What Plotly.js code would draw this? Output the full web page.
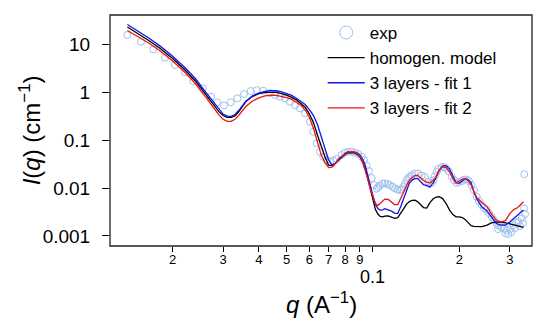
<!DOCTYPE html>
<html>
<head>
<meta charset="utf-8">
<script src="https://cdn.plot.ly/plotly-3.0.1.min.js"></script>
<style>html,body{margin:0;padding:0;background:#fff;}#chart{width:550px;height:335px;}</style>
</head>
<body>
<div id="chart"></div>
<script>
// ---- data ----
var qModel = [0.0139,0.015,0.0165,0.018,0.020,0.022,0.024,0.026,0.028,0.029,0.030,0.031,0.032,0.033,0.034,
  0.036,0.038,0.040,0.042,0.044,0.046,0.048,0.050,0.052,0.054,0.056,0.058,0.060,0.062,0.064,0.066,0.068,
  0.070,0.072,0.074,0.076,0.078,0.080,0.082,0.084,0.086,0.088,0.090,0.092,0.094,0.096,0.098,0.100,0.102,
  0.104,0.106,0.108,0.110,0.113,0.116,0.119,0.122,0.125,0.128,0.131,0.134,0.137,0.140,0.143,0.146,0.150,
  0.154,0.158,0.162,0.166,0.170,0.175,0.180,0.185,0.190,0.195,0.200,0.205,0.210,0.215,0.220,0.225,0.230,
  0.240,0.250,0.260,0.270,0.280,0.290,0.300,0.310,0.320,0.330,0.335];

var iHomogen = [22.97,17.39,12.06,8.373,5.054,2.978,1.722,0.9215,0.5175,0.3934,0.3263,0.2992,0.3006,0.3217,0.3916,
  0.6394,0.8210,0.9304,0.9952,1.0097,0.9952,0.9395,0.8739,0.7826,0.6941,0.5807,0.4861,0.3506,0.2319,0.1278,0.07315,0.04438,
  0.03021,0.02935,0.03324,0.03898,0.04568,0.05076,0.05455,0.05508,0.05455,0.05052,0.04524,0.03573,0.02492,0.01541,0.00953,0.005354,0.003557,
  0.002866,0.002566,0.002517,0.002603,0.002628,0.002433,0.002330,0.002421,0.002935,0.003733,0.004633,0.005226,0.005562,0.005616,0.005226,0.004633,0.003916,
  0.003824,0.004981,0.005893,0.006489,0.006583,0.006036,0.004747,0.003472,0.002797,0.002517,0.002517,0.002421,0.002190,0.001859,0.001641,0.001586,0.001571,
  0.001571,0.001689,0.001905,0.001941,0.001951,0.001886,0.001815,0.001713,0.001625,0.001541,0.001511];

var iFit1 = [25.91,19.60,13.54,9.395,5.644,3.326,1.932,1.034,0.5754,0.4353,0.3506,0.3185,0.3140,0.3423,0.4148,
  0.6394,0.8409,0.9622,1.0442,1.0748,1.0748,1.0193,0.9484,0.8614,0.7492,0.6551,0.5536,0.4353,0.3263,0.2117,0.1161,0.06520,
  0.03842,0.03021,0.03324,0.04127,0.04656,0.05250,0.05724,0.05780,0.05643,0.05455,0.04886,0.04031,0.02949,0.01913,0.01101,0.006808,0.004523,
  0.003733,0.003472,0.003522,0.003715,0.003505,0.003309,0.003007,0.002935,0.004108,0.006036,0.009085,0.01272,0.01469,0.01579,0.01594,0.01400,0.01183,
  0.01128,0.01049,0.01272,0.01656,0.02318,0.02906,0.02949,0.02492,0.01780,0.01302,0.01253,0.01400,0.01579,0.01483,0.01302,0.008252,0.006036,
  0.004011,0.003309,0.002421,0.001815,0.001689,0.001689,0.001951,0.002364,0.002731,0.003231,0.003472];

var iFit2 = [19.42,15.05,10.65,7.421,4.480,2.641,1.519,0.8132,0.4459,0.3374,0.2731,0.2469,0.2469,0.2718,0.3294,
  0.5029,0.6551,0.7638,0.8409,0.8739,0.8614,0.8210,0.7750,0.7109,0.6243,0.5405,0.4249,0.2963,0.1746,0.09127,0.04886,0.03406,
  0.02679,0.02744,0.03246,0.04031,0.04771,0.05378,0.05724,0.05780,0.05724,0.05250,0.04612,0.03489,0.02374,0.01505,0.009304,0.006489,0.004747,
  0.004311,0.004862,0.005483,0.005893,0.005808,0.005226,0.004523,0.004523,0.006036,0.008252,0.01155,0.01469,0.01656,0.01823,0.01867,0.01656,0.01434,
  0.01334,0.01272,0.01434,0.01738,0.02374,0.02783,0.02679,0.02158,0.01579,0.01272,0.01400,0.01541,0.01594,0.01400,0.01155,0.008252,0.006332,
  0.004981,0.004108,0.002797,0.002097,0.001979,0.002097,0.002935,0.003557,0.003916,0.004633,0.005176];

var qExp = [0.01389,0.01551,0.01712,0.01880,0.02038,0.02208,0.02360,0.02546,0.02721,0.02862,0.03020,0.03189,0.03362,0.03548,
  0.03744,0.03929,0.04143,0.04372,0.04551,0.04737,0.04932,0.05134,0.05345,0.05563,0.05791,0.06029,0.06192,0.06362,0.06533,
  0.06710,0.06896,0.07079,0.07270,0.07471,0.07777,0.07985,0.08199,0.08427,0.08654,0.08887,0.09133,0.09303,0.09506,0.09683,
  0.09896,0.1008,0.1030,0.1043,0.1058,0.1079,0.1101,0.1124,0.1146,0.1170,0.1193,0.1218,0.1242,0.1262,0.1275,0.1293,0.1311,
  0.1328,0.1346,0.1365,0.1401,0.1439,0.1479,0.1518,0.1559,0.1602,0.1623,0.1645,0.1668,0.1690,0.1736,0.1769,0.1807,0.1841,
  0.1882,0.1917,0.1959,0.1996,0.2040,0.2077,0.2123,0.2162,0.2210,0.2251,0.2300,0.2343,0.2394,0.2439,0.2493,0.2539,0.2595,
  0.2644,0.2702,0.2730,0.2752,0.2812,0.2865,0.2900,0.2927,0.2965,0.3006,0.3042,0.3086,0.3129,0.3167,0.3214,0.3258,0.3302,
  0.3337,0.3364,0.3372,0.3391];

var iExp = [15.64,11.33,7.863,5.252,3.697,2.602,1.713,1.206,0.8055,0.6153,0.5277,0.6153,0.7459,0.9171,
  1.059,1.111,1.075,0.9622,0.8739,0.8055,0.7459,0.6333,0.5405,0.4612,0.3628,0.2421,0.1498,0.08574,0.05724,
  0.04502,0.03842,0.03540,0.03751,0.04031,0.04886,0.05508,0.05724,0.05780,0.05455,0.05124,0.04502,0.03842,0.02949,0.02263,
  0.01617,0.01155,0.009763,0.01049,0.01128,0.01241,0.01253,0.01212,0.01155,0.01075,0.009856,0.009304,0.009085,0.009530,0.01049,0.01212,0.01469,
  0.01617,0.01738,0.01867,0.02008,0.02027,0.01823,0.01697,0.01366,0.01272,0.01469,0.01780,0.02158,0.02492,0.02744,0.02744,0.02553,0.02210,
  0.01738,0.01469,0.01272,0.01334,0.01400,0.01505,0.01505,0.01400,0.01155,0.009085,0.006583,0.005354,0.004416,0.003824,0.003472,0.003007,0.002517,
  0.002147,0.001832,0.001393,0.001649,0.001511,0.001427,0.001149,0.001327,0.001095,0.001393,0.001206,0.001689,0.001462,0.001859,0.001998,0.001609,0.002330,
  0.001859,0.003769,0.01960,0.002866];

var xTickVals = [0.02,0.03,0.04,0.05,0.06,0.07,0.08,0.09,0.1,0.2,0.3];
var xTickText = ['2','3','4','5','6','7','8','9','','2','3'];
var yTickVals = [0.001,0.01,0.1,1,10];
var yTickText = ['0.001','0.01','0.1','1','10'];

var FONT = 'Liberation Sans, Arial, Helvetica, sans-serif';
var expColor = 'rgb(158,192,240)';

var traces = [
  {x: qExp, y: iExp, type: 'scatter', mode: 'markers', name: 'exp', showlegend: false, legendgroup: 'exp',
   marker: {symbol: 'circle-open', size: 7, color: expColor, line: {width: 1, color: expColor}}},
  {x: qModel, y: iHomogen, type: 'scatter', mode: 'lines', name: 'homogen. model', legendrank: 2,
   line: {color: '#000000', width: 1.3}},
  {x: qModel, y: iFit1, type: 'scatter', mode: 'lines', name: '3 layers - fit 1', legendrank: 3,
   line: {color: 'rgb(20,20,225)', width: 1.3}},
  {x: qModel, y: iFit2, type: 'scatter', mode: 'lines', name: '3 layers - fit 2', legendrank: 4,
   line: {color: 'rgb(240,20,20)', width: 1.3}},
  {x: [null], y: [null], type: 'scatter', mode: 'markers', name: 'exp', legendgroup: 'exp', legendrank: 1,
   marker: {symbol: 'circle-open', size: 13, color: expColor, line: {width: 1, color: expColor}}}
];

var layout = {
  width: 550, height: 335,
  margin: {l: 110, r: 18, t: 15, b: 89},
  paper_bgcolor: '#ffffff', plot_bgcolor: '#ffffff',
  font: {family: FONT, color: '#000000'},
  showlegend: true,
  legend: {x: 0.504, y: 1.0, xanchor: 'left', yanchor: 'top', bgcolor: 'rgba(0,0,0,0)',
           font: {family: FONT, size: 17, color: '#000'}, itemwidth: 37, tracegroupgap: 0},
  xaxis: {type: 'log', range: [-1.9176, -0.4452], tickmode: 'array', tickvals: xTickVals, ticktext: xTickText,
          ticks: 'outside', ticklen: 5, tickwidth: 1, tickcolor: '#000', showgrid: false, zeroline: false,
          showline: false, ticklabelstandoff: -4,
          tickfont: {family: FONT, size: 13, color: '#000'}},
  yaxis: {type: 'log', range: [-3.209, 1.612], tickmode: 'array', tickvals: yTickVals, ticktext: yTickText,
          ticks: 'outside', ticklen: 7, tickwidth: 1, tickcolor: '#000', showgrid: false, zeroline: false,
          showline: false, ticklabelstandoff: 8,
          tickfont: {family: FONT, size: 19, color: '#000'}},
  shapes: [
    {type: 'rect', xref: 'paper', yref: 'paper', x0: 0, x1: 1, y0: 0, y1: 1,
     line: {color: '#222', width: 1.3}, fillcolor: 'rgba(0,0,0,0)', layer: 'above'}
  ],
  annotations: [
    {xref: 'x', yref: 'paper', x: -1, y: -0.135, text: '0.1', showarrow: false, xanchor: 'center', yanchor: 'middle',
     font: {family: FONT, size: 18, color: '#000'}},
    {xref: 'paper', yref: 'paper', x: 0.501, y: -0.175, text: '<i>q</i> (A<sup>\u22121</sup>)', showarrow: false,
     xanchor: 'center', yanchor: 'top', font: {family: FONT, size: 24, color: '#000'}},
    {xref: 'paper', yref: 'paper', x: -0.19, y: 0.5, text: '<i>I</i>(<i>q</i>) (cm<sup>\u22121</sup>)', showarrow: false,
     textangle: -90, xanchor: 'center', yanchor: 'middle', font: {family: FONT, size: 24, color: '#000'}}
  ]
};

Plotly.newPlot('chart', traces, layout, {staticPlot: true, displayModeBar: false});
</script>
</body>
</html>
